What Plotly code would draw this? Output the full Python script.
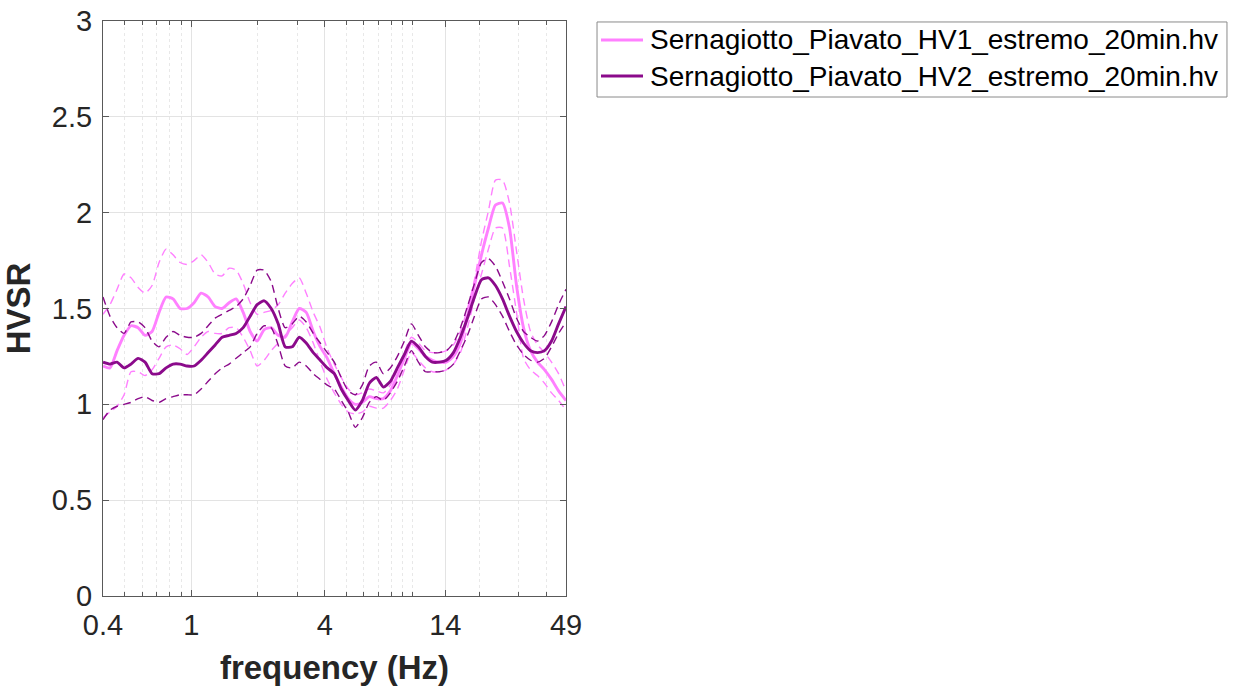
import plotly.graph_objects as go

# Frequency grid (Hz), log spaced over 0.4 - 49 Hz
freq = [0.400, 0.430, 0.463, 0.498, 0.535, 0.576, 0.619, 0.666, 0.716, 0.770,
        0.828, 0.891, 0.958, 1.030, 1.108, 1.192, 1.282, 1.378, 1.482, 1.594,
        1.715, 1.844, 1.983, 2.133, 2.294, 2.467, 2.653, 2.854, 3.069, 3.301,
        3.550, 3.818, 4.107, 4.417, 4.750, 5.109, 5.495, 5.910, 6.356, 6.836,
        7.352, 7.907, 8.504, 9.146, 9.837, 10.58, 11.38, 12.24, 13.16, 14.15,
        15.22, 16.37, 17.61, 18.94, 20.37, 21.90, 23.56, 25.34, 27.25, 29.31,
        31.52, 33.90, 36.46, 39.21, 42.17, 45.36, 49.00]

# HV1 record: mean curve and +/- one standard deviation
hv1_mean = [1.20, 1.19, 1.28, 1.36, 1.41, 1.40, 1.36, 1.38, 1.48, 1.56,
            1.55, 1.50, 1.50, 1.53, 1.58, 1.56, 1.51, 1.50, 1.53, 1.55,
            1.48, 1.38, 1.33, 1.39, 1.40, 1.36, 1.35, 1.43, 1.50, 1.48,
            1.38, 1.30, 1.24, 1.16, 1.09, 1.03, 1.00, 1.01, 1.04, 1.03,
            1.03, 1.07, 1.15, 1.24, 1.32, 1.29, 1.25, 1.23, 1.22, 1.22,
            1.25, 1.32, 1.46, 1.62, 1.78, 1.92, 2.04, 2.05, 1.92, 1.62,
            1.40, 1.28, 1.22, 1.18, 1.13, 1.07, 1.02]
hv1_upper = [1.47, 1.52, 1.60, 1.68, 1.66, 1.61, 1.58, 1.62, 1.74, 1.81,
             1.78, 1.74, 1.73, 1.75, 1.78, 1.74, 1.68, 1.67, 1.71, 1.70,
             1.63, 1.53, 1.47, 1.48, 1.49, 1.52, 1.58, 1.63, 1.66, 1.58,
             1.48, 1.40, 1.29, 1.21, 1.14, 1.08, 1.05, 1.06, 1.08, 1.07,
             1.06, 1.10, 1.18, 1.27, 1.35, 1.32, 1.28, 1.27, 1.27, 1.28,
             1.31, 1.38, 1.50, 1.65, 1.85, 2.01, 2.17, 2.17, 2.05, 1.80,
             1.55, 1.38, 1.31, 1.27, 1.22, 1.16, 1.07]
hv1_lower = [0.93, 0.96, 0.99, 1.05, 1.17, 1.17, 1.15, 1.18, 1.24, 1.30,
             1.31, 1.29, 1.26, 1.30, 1.35, 1.38, 1.37, 1.37, 1.40, 1.40,
             1.35, 1.28, 1.20, 1.23, 1.28, 1.32, 1.36, 1.40, 1.44, 1.40,
             1.32, 1.22, 1.13, 1.06, 1.00, 0.96, 0.95, 0.96, 0.99, 0.98,
             0.98, 1.02, 1.08, 1.18, 1.27, 1.23, 1.19, 1.17, 1.17, 1.18,
             1.21, 1.27, 1.40, 1.55, 1.68, 1.81, 1.92, 1.92, 1.72, 1.48,
             1.24, 1.18, 1.15, 1.11, 1.06, 1.02, 0.97]

# HV2 record: mean curve and +/- one standard deviation
hv2_mean = [1.22, 1.21, 1.22, 1.19, 1.21, 1.24, 1.22, 1.16, 1.16, 1.19,
            1.21, 1.21, 1.20, 1.20, 1.23, 1.27, 1.31, 1.35, 1.36, 1.37,
            1.40, 1.46, 1.52, 1.54, 1.50, 1.42, 1.30, 1.30, 1.35, 1.32,
            1.27, 1.23, 1.19, 1.16, 1.08, 1.02, 0.97, 1.02, 1.11, 1.14,
            1.09, 1.12, 1.19, 1.26, 1.33, 1.30, 1.25, 1.22, 1.22, 1.23,
            1.27, 1.35, 1.45, 1.56, 1.65, 1.66, 1.62, 1.55, 1.46, 1.38,
            1.32, 1.28, 1.27, 1.28, 1.33, 1.42, 1.51]
hv2_upper = [1.56, 1.46, 1.40, 1.37, 1.43, 1.43, 1.40, 1.33, 1.30, 1.35,
             1.38, 1.36, 1.35, 1.35, 1.37, 1.41, 1.45, 1.47, 1.49, 1.51,
             1.55, 1.62, 1.70, 1.70, 1.64, 1.50, 1.40, 1.42, 1.46, 1.43,
             1.37, 1.32, 1.27, 1.22, 1.14, 1.07, 1.05, 1.10, 1.20, 1.22,
             1.16, 1.19, 1.25, 1.33, 1.42, 1.36, 1.30, 1.27, 1.27, 1.28,
             1.32, 1.40, 1.51, 1.63, 1.74, 1.76, 1.72, 1.64, 1.55, 1.45,
             1.38, 1.35, 1.33, 1.36, 1.43, 1.52, 1.60]
hv2_lower = [0.92, 0.97, 0.99, 1.00, 1.01, 1.03, 1.04, 1.02, 1.01, 1.03,
             1.04, 1.05, 1.05, 1.05, 1.08, 1.12, 1.16, 1.19, 1.21, 1.24,
             1.27, 1.30, 1.37, 1.41, 1.40, 1.31, 1.20, 1.19, 1.22, 1.20,
             1.16, 1.13, 1.10, 1.08, 1.02, 0.96, 0.88, 0.93, 1.01, 1.04,
             1.02, 1.06, 1.12, 1.20, 1.28, 1.22, 1.17, 1.17, 1.17, 1.18,
             1.21, 1.28, 1.36, 1.46, 1.55, 1.56, 1.52, 1.46, 1.38, 1.31,
             1.26, 1.23, 1.22, 1.24, 1.30, 1.37, 1.43]

names = ["Sernagiotto_Piavato_HV1_estremo_20min.hv",
         "Sernagiotto_Piavato_HV2_estremo_20min.hv"]
colors = ["#FF80FF", "#8B0A8B"]

x_ticks = [0.4, 1, 4, 14, 49]
x_tick_text = ["0.4", "1", "4", "14", "49"]
x_minor = [0.5, 0.6, 0.7, 0.8, 0.9, 2, 3, 5, 6, 7, 8, 9, 10, 20, 30, 40]
y_ticks = [0, 0.5, 1, 1.5, 2, 2.5, 3]
y_tick_text = ["0", "0.5", "1", "1.5", "2", "2.5", "3"]

FONT = "Liberation Sans, Arial, sans-serif"
TXT = "#262626"

fig = go.Figure()

records = [(hv1_mean, hv1_upper, hv1_lower), (hv2_mean, hv2_upper, hv2_lower)]
for (mean, upper, lower), name, col in zip(records, names, colors):
    for band in (upper, lower):
        fig.add_trace(go.Scatter(
            x=freq, y=band, mode="lines", showlegend=False, hoverinfo="skip",
            line=dict(color=col, width=1.4, dash="8px,5px", shape="spline",
                      smoothing=0.6)))
    fig.add_trace(go.Scatter(
        x=freq, y=mean, mode="lines", name=name, showlegend=False,
        line=dict(color=col, width=2.9, shape="spline", smoothing=0.6)))

axis_common = dict(
    showline=True, linecolor="#595959", linewidth=1, mirror="ticks",
    ticks="inside", ticklen=6, tickwidth=1, tickcolor="#595959",
    showgrid=True, gridcolor="#e3e3e3", gridwidth=1, zeroline=False,
    automargin=False,
    tickfont=dict(family=FONT, size=29, color=TXT),
)

fig.update_xaxes(
    type="log", range=[-0.39794, 1.690196],
    tickvals=x_ticks, ticktext=x_tick_text, ticklabelstandoff=3,
    minor=dict(tickvals=x_minor, ticks="inside", ticklen=4, tickcolor="#595959",
               showgrid=True, gridcolor="#e8e8e8", griddash="dot", gridwidth=1),
    title=dict(text="frequency (Hz)", standoff=16,
               font=dict(family=FONT, size=33, color=TXT, weight="bold")),
    **axis_common)

fig.update_yaxes(
    range=[0, 3], tickvals=y_ticks, ticktext=y_tick_text,
    ticklabelstandoff=4,
    title=dict(text="HVSR", standoff=12,
               font=dict(family=FONT, size=33, color=TXT, weight="bold")),
    **axis_common)

# Legend box drawn in paper coordinates to the right of the axes
legend_box = dict(x0=1.0670, x1=2.4276, y0=0.8678, y1=0.9983)
legend_rows_y = [0.9670, 0.9043]
legend_line_x = (1.0756, 1.1663)
legend_text_x = 1.1771

shapes = [dict(type="rect", xref="paper", yref="paper", layer="above",
               line=dict(color="#8a8a8a", width=1), fillcolor="white",
               **legend_box)]
annotations = []
for name, col, ry in zip(names, colors, legend_rows_y):
    shapes.append(dict(type="line", xref="paper", yref="paper", layer="above",
                       x0=legend_line_x[0], x1=legend_line_x[1], y0=ry, y1=ry,
                       line=dict(color=col, width=2.9)))
    annotations.append(dict(text=name, xref="paper", yref="paper",
                            x=legend_text_x, y=ry, xanchor="left",
                            yanchor="middle", showarrow=False,
                            font=dict(family=FONT, size=28, color="#000000")))

fig.update_layout(
    width=1234, height=691,
    margin=dict(l=103, r=668, t=21, b=95),
    paper_bgcolor="white", plot_bgcolor="white",
    font=dict(family=FONT, color=TXT),
    shapes=shapes, annotations=annotations,
    showlegend=False,
)

fig.write_html("out.html")
